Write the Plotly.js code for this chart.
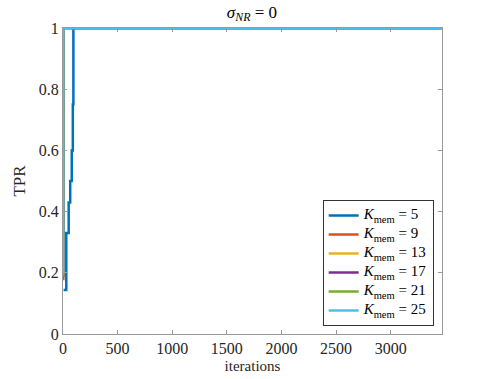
<!DOCTYPE html>
<html>
<head>
<meta charset="utf-8">
<script src="https://cdn.plot.ly/plotly-3.0.1.min.js"></script>
<style>html,body{margin:0;padding:0;background:#fff;}#chart{width:479px;height:379px;}</style>
</head>
<body>
<div id="chart"></div>
<script>
// Series data (iterations, TPR), step-wise
const kmem = [5, 9, 13, 17, 21, 25];
const colors = ['#0072BD', '#D95319', '#EDB120', '#7E2F8E', '#77AC30', '#4DBEEE'];
const iterK5 = [6, 30, 52, 66, 80, 90, 95, 3470];
const tprK5  = [0.144, 0.33, 0.43, 0.5, 0.6, 0.75, 1, 1];
const iterK9 = [1, 3, 3470];
const tprK9  = [0.18, 1, 1];
const iterK13 = [1, 3, 3470];
const tprK13  = [0.19, 1, 1];
const iterK17 = [1, 3, 3470];
const tprK17  = [0.19, 1, 1];
const iterK21 = [1, 2, 3470];
const tprK21  = [0.19, 1, 1];
const iterK25 = [1, 2, 3470];
const tprK25  = [0.2, 1, 1];
const xs = [iterK5, iterK9, iterK13, iterK17, iterK21, iterK25];
const ys = [tprK5, tprK9, tprK13, tprK17, tprK21, tprK25];
const xTicks = [0, 500, 1000, 1500, 2000, 2500, 3000];
const yTicks = [0, 0.2, 0.4, 0.6, 0.8, 1];

const font = "'Liberation Serif', serif";
const traces = kmem.map((k, i) => ({
  x: xs[i], y: ys[i], type: 'scatter', mode: 'lines',
  line: {color: colors[i], width: 2.5, shape: 'hv'},
  name: '<span style="font-size:15px"><i>K</i><sub>mem</sub> = ' + k + '</span>',
  cliponaxis: false
}));
const axisCommon = {
  showgrid: false, zeroline: false, showline: true, linecolor: '#999', linewidth: 1,
  mirror: 'ticks', ticks: 'inside', ticklen: 4, tickcolor: '#999',
  tickfont: {family: font, size: 16, color: '#262626'}
};
const layout = {
  width: 479, height: 379,
  margin: {l: 63, r: 37, t: 28, b: 45},
  paper_bgcolor: '#fff', plot_bgcolor: '#fff',
  title: {text: '<i>σ</i><sub><i>NR</i></sub> = 0', font: {family: font, size: 17, color: '#000'}, x: 0.526, xanchor: 'center', y: 0.985, yanchor: 'top'},
  xaxis: Object.assign({}, axisCommon, {range: [0, 3470], tickvals: xTicks, ticktext: xTicks.map(String),
    title: {text: 'iterations', font: {family: font, size: 15, color: '#262626'}, standoff: 4}}),
  yaxis: Object.assign({}, axisCommon, {range: [0, 1], tickvals: yTicks, ticktext: yTicks.map(String),
    title: {text: 'TPR', font: {family: font, size: 17, color: '#262626'}, standoff: 8}}),
  showlegend: true,
  legend: {x: 0.978, xanchor: 'right', y: 0.026, yanchor: 'bottom', bgcolor: '#fff', bordercolor: '#333', borderwidth: 1,
    font: {family: font, size: 10, color: '#000'}, tracegroupgap: 0, itemwidth: 30}
};
Plotly.newPlot('chart', traces, layout, {displayModeBar: false, staticPlot: true});
</script>
</body>
</html>
